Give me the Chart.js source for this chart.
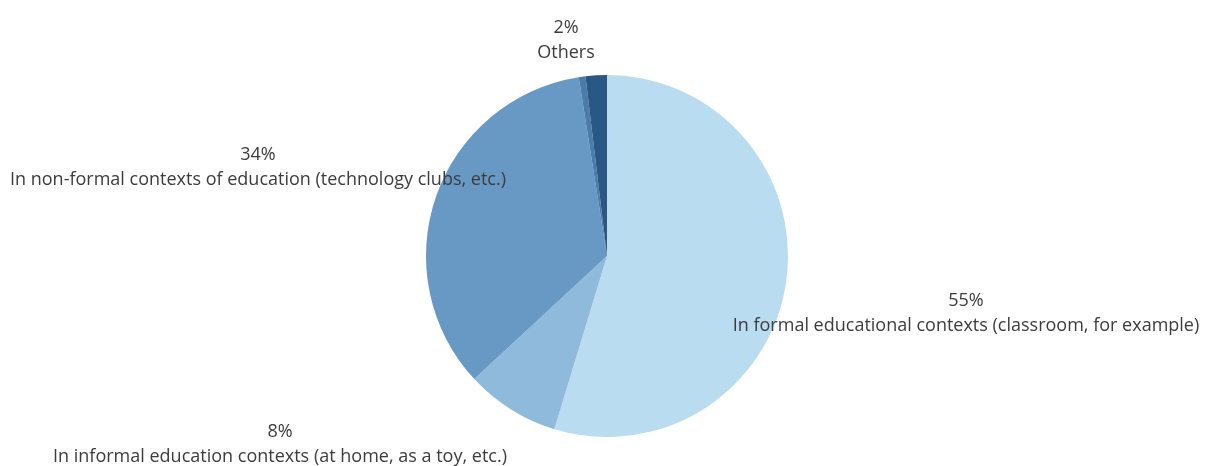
<!DOCTYPE html>
<html>
<head>
<meta charset="utf-8">
<script src="https://cdn.jsdelivr.net/npm/chart.js@4/dist/chart.umd.min.js"></script>
<style>
  html,body{margin:0;padding:0;background:#fff;}
  #wrap{width:1206px;height:466px;position:relative;}
</style>
</head>
<body>
<div id="wrap"><canvas id="c" width="1206" height="466"></canvas></div>
<script>
const categories = [
  "In formal educational contexts (classroom, for example)",
  "In informal education contexts (at home, as a toy, etc.)",
  "In non-formal contexts of education (technology clubs, etc.)",
  "",
  "Others"
];
const values = [54.7, 8.4, 34.4, 0.6, 1.9];
const percentLabels = ["55%", "8%", "34%", "", "2%"];
const colors = ["#b9dcf0", "#8fbadc", "#6799c4", "#4a7cab", "#2b5784"];

// label anchor positions (centre of first text line), pixels
const labelPos = [
  {x: 966, y: 301},
  {x: 280, y: 432},
  {x: 258, y: 155},
  null,
  {x: 566, y: 28}
];

const labelPlugin = {
  id: 'labels',
  afterDraw(chart) {
    const ctx = chart.ctx;
    ctx.save();
    ctx.fillStyle = '#3c3c3c';
    ctx.textAlign = 'center';
    ctx.textBaseline = 'middle';
    ctx.font = '18px "Open Sans"';
    categories.forEach((cat, i) => {
      const p = labelPos[i];
      if (!p) return;
      ctx.fillText(percentLabels[i], p.x, p.y);
      ctx.fillText(cat, p.x, p.y + 25);
    });
    ctx.restore();
  }
};

new Chart(document.getElementById('c'), {
  type: 'pie',
  data: {
    labels: categories,
    datasets: [{
      data: values,
      backgroundColor: colors,
      borderWidth: 0
    }]
  },
  options: {
    responsive: false,
    animation: false,
    layout: {padding: {left: 300, right: 292, top: 75, bottom: 29}},
    plugins: {legend: {display: false}, tooltip: {enabled: false}}
  },
  plugins: [labelPlugin]
});
</script>
</body>
</html>
